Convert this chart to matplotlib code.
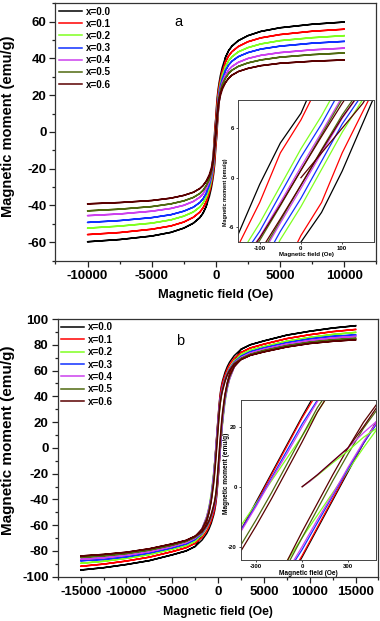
import matplotlib
matplotlib.use('Agg')
import matplotlib.pyplot as plt
from matplotlib.ticker import MultipleLocator, FixedLocator

plt.rcParams['font.family'] = ['Liberation Sans', 'DejaVu Sans']
plt.rcParams['font.weight'] = 'bold'
plt.rcParams['axes.unicode_minus'] = False

LABELS = ['x=0.0', 'x=0.1', 'x=0.2', 'x=0.3', 'x=0.4', 'x=0.5', 'x=0.6']
COLORS = ['#000000', '#ff0000', '#80ff20', '#1030ff', '#cc40ee', '#4f6a10', '#5a0000']

# ---------------- Panel a (descending branch; loop is point-symmetric) ----------------
A_H_OUTER = [750, 1000, 1250, 1750, 2500, 3500, 5000, 7500, 10000]
A_H_NEAR = [500, 350, 250, 175, 100, 50, 0, -50, -100, -175, -250, -350, -500]

A_OUT_00 = [40.5, 44.2, 46.6, 49.6, 52.3, 54.6, 56.6, 58.5, 59.7]
A_OUT_01 = [38.0, 41.3, 43.6, 46.4, 49.0, 51.1, 52.9, 54.7, 55.8]
A_OUT_02 = [35.5, 38.7, 40.8, 43.5, 45.8, 47.8, 49.6, 51.2, 52.3]
A_OUT_03 = [33.4, 36.4, 38.4, 40.9, 43.1, 45.0, 46.6, 48.2, 49.2]
A_OUT_04 = [30.9, 33.7, 35.5, 37.8, 39.9, 41.6, 43.1, 44.6, 45.5]
A_OUT_05 = [29.2, 31.8, 33.5, 35.6, 37.5, 39.1, 40.6, 42.0, 42.9]
A_OUT_06 = [26.8, 29.2, 30.8, 32.8, 34.5, 36.0, 37.3, 38.4, 39.1]

A_NEAR_00 = [35.0, 30.5, 26.5, 23.0, 18.3, 13.5, 7.8, 4.2, -0.8, -9.5, -15.5, -23.0, -31.0]
A_NEAR_01 = [33.0, 28.5, 25.0, 21.5, 16.5, 12.0, 7.0, 3.0, -3.0, -10.5, -16.0, -22.5, -29.5]
A_NEAR_02 = [31.0, 26.5, 22.5, 18.5, 12.0, 7.5, 3.5, -1.0, -5.5, -11.5, -16.5, -22.0, -28.0]
A_NEAR_03 = [29.0, 25.0, 21.5, 17.5, 11.0, 6.5, 2.5, -2.0, -6.5, -12.0, -16.5, -21.5, -26.5]
A_NEAR_04 = [27.0, 23.5, 20.0, 16.0, 9.8, 5.5, 1.3, -3.0, -7.2, -12.5, -16.5, -21.0, -25.5]
A_NEAR_05 = [26.0, 22.5, 19.0, 15.5, 9.5, 5.2, 0.9, -3.4, -7.6, -13.0, -17.0, -21.0, -24.5]
A_NEAR_06 = [24.0, 21.0, 18.0, 14.5, 9.0, 5.0, 0.9, -3.3, -7.3, -12.5, -16.0, -19.5, -23.0]

A_VIRGIN_H = [0, 25, 50, 75, 100, 150, 175]
A_VIRGIN_06 = [0.0, 1.5, 3.0, 4.5, 6.0, 9.0, 11.0]

# ---------------- Panel b ----------------
B_H_OUTER = [2500, 3500, 5000, 7500, 10000, 12500, 15000]
B_H_NEAR = [1750, 1250, 1000, 750, 500, 400, 300, 200, 100, 0,
            -100, -200, -300, -400, -500, -750, -1000, -1250, -1750]

B_OUT_00 = [76.5, 80.0, 83.0, 87.5, 90.5, 93.0, 94.8]
B_OUT_01 = [74.0, 77.5, 80.5, 84.8, 87.8, 90.2, 91.9]
B_OUT_02 = [72.5, 75.8, 78.6, 82.8, 85.7, 88.0, 89.6]
B_OUT_03 = [71.0, 74.5, 77.5, 81.5, 84.5, 86.5, 87.6]
B_OUT_04 = [70.0, 73.5, 76.5, 80.5, 83.3, 85.3, 86.5]
B_OUT_05 = [69.3, 72.5, 75.5, 79.3, 82.0, 83.8, 85.0]
B_OUT_06 = [68.5, 71.8, 74.5, 78.3, 81.0, 82.7, 83.9]

B_NEAR_00 = [71.5, 66.5, 63.0, 58.5, 52.5, 49.5, 45.5, 40.0, 32.5, 23.5,
             14.0, 4.5, -5.0, -14.5, -23.0, -40.0, -50.5, -57.5, -67.0]
B_NEAR_01 = [69.5, 64.5, 61.0, 56.5, 51.0, 48.0, 44.5, 39.0, 31.5, 23.0,
             13.5, 4.0, -5.5, -14.5, -22.5, -39.0, -49.0, -56.0, -65.0]
B_NEAR_02 = [67.5, 62.0, 58.5, 53.5, 46.5, 43.0, 39.0, 33.0, 25.0, 17.0,
             9.5, 2.0, -5.5, -13.0, -20.0, -35.5, -46.0, -53.5, -63.0]
B_NEAR_03 = [66.5, 61.5, 58.0, 53.5, 47.5, 44.5, 41.0, 36.0, 29.0, 21.0,
             12.0, 3.0, -6.0, -14.5, -22.0, -37.5, -47.0, -54.0, -63.0]
B_NEAR_04 = [66.0, 61.0, 57.5, 53.0, 47.0, 44.0, 40.5, 35.5, 28.5, 20.0,
             11.0, 2.5, -6.5, -15.0, -22.5, -37.5, -47.0, -53.5, -62.5]
B_NEAR_05 = [65.5, 60.5, 57.0, 52.5, 46.0, 43.0, 39.0, 34.0, 26.5, 17.0,
             7.5, -2.0, -11.0, -19.5, -26.5, -40.0, -49.0, -55.0, -63.0]
B_NEAR_06 = [65.0, 60.0, 56.5, 51.5, 45.0, 42.0, 38.0, 33.0, 25.0, 15.0,
             5.5, -4.0, -13.0, -21.5, -28.5, -41.5, -50.0, -56.0, -63.0]

B_VIRGIN_H = [0, 50, 100, 200, 300, 400, 500]
B_VIRGIN_02 = [0.0, 1.8, 3.8, 8.0, 12.0, 16.5, 20.0]
B_VIRGIN_04 = [0.0, 1.8, 4.0, 8.5, 13.0, 18.0, 22.5]
B_VIRGIN_06 = [0.0, 2.0, 4.0, 8.5, 13.0, 20.0, 27.5]

A_OUT = [A_OUT_00, A_OUT_01, A_OUT_02, A_OUT_03, A_OUT_04, A_OUT_05, A_OUT_06]
A_NEAR = [A_NEAR_00, A_NEAR_01, A_NEAR_02, A_NEAR_03, A_NEAR_04, A_NEAR_05, A_NEAR_06]
B_OUT = [B_OUT_00, B_OUT_01, B_OUT_02, B_OUT_03, B_OUT_04, B_OUT_05, B_OUT_06]
B_NEAR = [B_NEAR_00, B_NEAR_01, B_NEAR_02, B_NEAR_03, B_NEAR_04, B_NEAR_05, B_NEAR_06]


def build_loop(h_out, h_near, m_out, m_near):
    dh = h_out[::-1] + h_near + [-h for h in h_out]
    dm = m_out[::-1] + m_near + [-m for m in m_out]
    ah = [-h for h in dh]
    am = [-m for m in dm]
    return dh + ah, dm + am


fig = plt.figure(figsize=(3.8, 6.21), dpi=100)

TICK_FS = 9.5


def style_main(ax, xmaj, xmin, ymaj, ymin):
    ax.xaxis.set_major_locator(MultipleLocator(xmaj))
    ax.xaxis.set_minor_locator(MultipleLocator(xmin))
    ax.yaxis.set_major_locator(MultipleLocator(ymaj))
    ax.yaxis.set_minor_locator(MultipleLocator(ymin))
    ax.tick_params(which='both', direction='out', top=False, right=False,
                   labelsize=TICK_FS, width=0.9, colors='#222222', labelcolor='black')
    ax.tick_params(which='major', length=4.5, pad=2)
    ax.tick_params(which='minor', length=2.5)
    for s in ax.spines.values():
        s.set_linewidth(0.9)
        s.set_color('#333333')


def style_inset(ax, xt, yt, fs):
    ax.xaxis.set_major_locator(FixedLocator(xt))
    ax.yaxis.set_major_locator(FixedLocator(yt))
    ax.tick_params(which='both', direction='out', top=False, right=False,
                   labelsize=fs, length=1.5, width=0.5, pad=1.5)
    for s in ax.spines.values():
        s.set_linewidth(0.7)
        s.set_color('#444444')


# ---------- Panel a ----------
axa = fig.add_axes([0.146, 0.5802, 0.844, 0.4148])
for i in range(7):
    h, m = build_loop(A_H_OUTER, A_H_NEAR, A_OUT[i], A_NEAR[i])
    axa.plot(h, m, color=COLORS[i], lw=1.1, label=LABELS[i])
axa.set_xlim(-12500, 12500)
axa.set_ylim(-70, 70)
style_main(axa, 5000, 2500, 20, 10)
axa.set_xlabel('Magnetic field (Oe)', fontsize=9.3, fontweight='bold')
axa.set_ylabel('Magnetic moment (emu/g)', fontsize=10.5, fontweight='bold')
axa.xaxis.set_label_coords(0.5, -0.108)
axa.yaxis.set_label_coords(-0.127, 0.52)
axa.text(0.382, 0.925, 'a', transform=axa.transAxes, fontsize=10.5,
         fontweight='normal', ha='center', va='center')
axa.legend(loc='upper left', frameon=False, fontsize=7.1, handlelength=2.3,
           handletextpad=0.4, labelspacing=0.22, borderaxespad=0.15,
           borderpad=0.2)

ia = fig.add_axes([0.627, 0.6108, 0.357, 0.228])
for i in range(7):
    h, m = build_loop(A_H_OUTER, A_H_NEAR, A_OUT[i], A_NEAR[i])
    ia.plot(h, m, color=COLORS[i], lw=0.9)
ia.plot(A_VIRGIN_H, A_VIRGIN_06, color=COLORS[6], lw=0.9)
ia.set_xlim(-152, 177)
ia.set_ylim(-7.75, 9.4)
style_inset(ia, [-100, 0, 100], [-6, 0, 6], 4.3)
ia.set_xlabel('Magnetic field (Oe)', fontsize=4.4, fontweight='bold', labelpad=0.5)
ia.set_ylabel('Magnetic moment (emu/g)', fontsize=3.9, fontweight='bold')
ia.yaxis.set_label_coords(-0.076, 0.35)

# ---------- Panel b ----------
axb = fig.add_axes([0.152, 0.0713, 0.844, 0.4150])
for i in range(7):
    h, m = build_loop(B_H_OUTER, B_H_NEAR, B_OUT[i], B_NEAR[i])
    axb.plot(h, m, color=COLORS[i], lw=1.1, label=LABELS[i])
axb.set_xlim(-17500, 17500)
axb.set_ylim(-100, 100)
style_main(axb, 5000, 2500, 20, 10)
axb.set_xlabel('Magnetic field (Oe)', fontsize=8.8, fontweight='bold')
axb.set_ylabel('Magnetic moment (emu/g)', fontsize=11.0, fontweight='bold')
axb.xaxis.set_label_coords(0.5, -0.114)
axb.yaxis.set_label_coords(-0.133, 0.53)
axb.text(0.382, 0.915, 'b', transform=axb.transAxes, fontsize=10.5,
         fontweight='normal', ha='center', va='center')
axb.legend(loc='upper left', frameon=False, fontsize=7.1, handlelength=2.3,
           handletextpad=0.4, labelspacing=0.24, borderaxespad=0.15,
           borderpad=0.2)

ib = fig.add_axes([0.634, 0.0982, 0.3545, 0.2577])
for i in range(7):
    h, m = build_loop(B_H_OUTER, B_H_NEAR, B_OUT[i], B_NEAR[i])
    ib.plot(h, m, color=COLORS[i], lw=0.9)
ib.plot(B_VIRGIN_H, B_VIRGIN_02, color=COLORS[2], lw=0.9)
ib.plot(B_VIRGIN_H, B_VIRGIN_04, color=COLORS[4], lw=0.9)
ib.plot(B_VIRGIN_H, B_VIRGIN_06, color=COLORS[6], lw=0.9)
ib.set_xlim(-400, 480)
ib.set_ylim(-24.5, 29)
style_inset(ib, [-300, 0, 300], [-20, 0, 20], 4.3)
ib.set_xlabel('Magnetic field (Oe)', fontsize=4.7, fontweight='bold', labelpad=0.5)
ib.set_ylabel('Magnetic moment (emu/g)', fontsize=4.7, fontweight='bold')
ib.yaxis.set_label_coords(-0.084, 0.544)

fig.savefig('out.png', dpi=100)
